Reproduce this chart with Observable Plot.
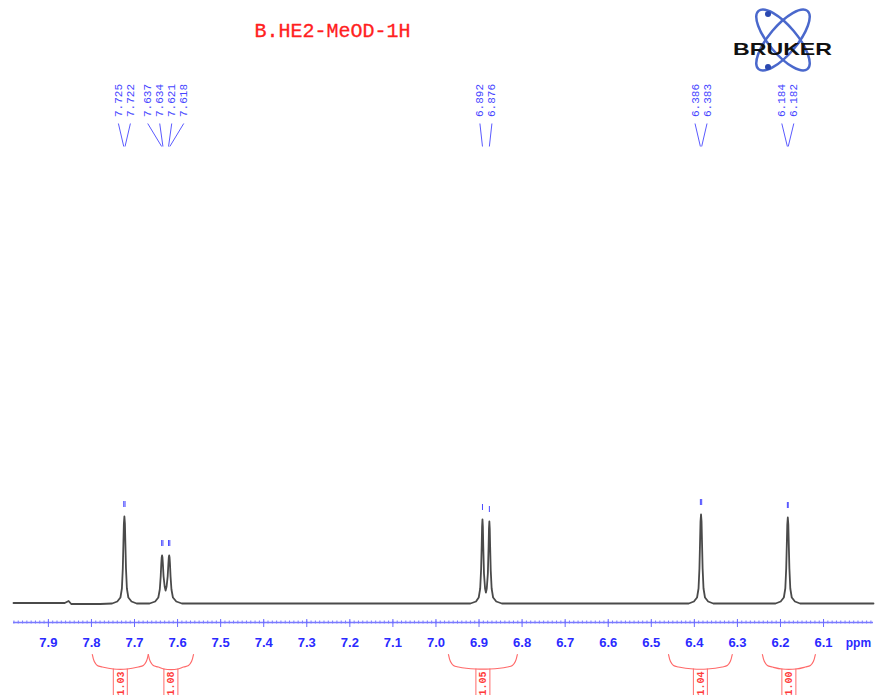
<!DOCTYPE html>
<html><head><meta charset="utf-8">
<script src="https://cdn.jsdelivr.net/npm/d3@7"></script>
<script src="https://cdn.jsdelivr.net/npm/@observablehq/plot@0.6"></script>
<style>body{margin:0;background:#fff}#chart svg{display:block}</style>
</head><body><div id="chart"></div>
<script>
// ---------- data ----------
const title = "B.HE2-MeOD-1H";
const logoText = "BRUKER";
const axisUnit = "ppm";
const tickValues = [7.9,7.8,7.7,7.6,7.5,7.4,7.3,7.2,7.1,7.0,6.9,6.8,6.7,6.6,6.5,6.4,6.3,6.2,6.1];
const tickLabels = ["7.9","7.8","7.7","7.6","7.5","7.4","7.3","7.2","7.1","7.0","6.9","6.8","6.7","6.6","6.5","6.4","6.3","6.2","6.1"];

// spectrum trace vertices (ppm, intensity)
const specPpm = [
  7.981, 7.862, 7.853, 7.847, 7.780,
  7.752, 7.740, 7.7327, 7.7293, 7.7272, 7.7258, 7.7247, 7.7235, 7.7223, 7.7212, 7.7198, 7.7177, 7.7143, 7.707, 7.695,
  7.665, 7.652, 7.6447, 7.6413, 7.6392, 7.6378, 7.6369, 7.636, 7.6351, 7.6342, 7.6325, 7.630, 7.6278, 7.6255, 7.623, 7.6213, 7.6204, 7.6195, 7.6186, 7.6177, 7.6163, 7.6142, 7.6108, 7.603, 7.590,
  7.300, 7.000,
  6.920, 6.907, 6.9007, 6.8973, 6.8952, 6.8938, 6.8929, 6.892, 6.8911, 6.8902, 6.8885, 6.886, 6.884, 6.882, 6.8795, 6.8778, 6.8769, 6.876, 6.8751, 6.8742, 6.8728, 6.8707, 6.8673, 6.860, 6.847,
  6.600,
  6.413, 6.401, 6.3937, 6.3903, 6.3882, 6.3868, 6.3857, 6.3845, 6.3833, 6.3822, 6.3808, 6.3787, 6.3753, 6.368, 6.356,
  6.2115, 6.1995, 6.1922, 6.1888, 6.1867, 6.1853, 6.1842, 6.183, 6.1818, 6.1807, 6.1793, 6.1772, 6.1738, 6.1665, 6.1545,
  5.984
];
const specInt = [
  0.5, 0.5, 2.5, -0.5, -0.5,
  0, 2, 6, 15, 35, 60, 80, 87, 80, 60, 35, 15, 6, 2, 0,
  0, 2, 6, 14, 27, 40, 46, 48, 46, 40, 27, 17, 13, 17, 27, 40, 46, 48, 46, 40, 27, 14, 6, 2, 0,
  0, 0,
  0, 2, 6, 15, 34, 58, 77, 84, 77, 58, 30, 15, 11, 15, 30, 57, 75, 82, 75, 57, 33, 15, 6, 2, 0,
  0,
  0, 2, 6, 15, 35, 61, 82, 89, 82, 61, 35, 15, 6, 2, 0,
  0, 2, 6, 15, 35, 59, 79, 86, 79, 59, 35, 15, 6, 2, 0,
  0
];

// peak picking
const pickPpm    = [7.725, 7.722, 7.637, 7.634, 7.621, 7.618, 6.892, 6.876, 6.386, 6.383, 6.184, 6.182];
const pickLabels = ["7.725","7.722","7.637","7.634","7.621","7.618","6.892","6.876","6.386","6.383","6.184","6.182"];
const pickHeight = [87, 87, 48, 48, 48, 48, 84, 82, 89, 89, 86, 86];
const pickGroup  = [0, 0, 1, 1, 1, 1, 2, 2, 3, 3, 4, 4];

// integrals
const intFrom   = [7.798, 7.668, 6.971, 6.460, 6.242];
const intTo     = [7.668, 7.563, 6.811, 6.312, 6.119];
const intLabels = ["1.03", "1.08", "1.05", "1.04", "1.00"];

// ---------- build ----------
const PX = 1 / 430.6; // ppm per pixel
const spec = specPpm.map((p, i) => ({ppm: p, int: specInt[i]}));

const picks = pickPpm.map((p, i) => ({ppm: p, label: pickLabels[i], h: pickHeight[i], g: pickGroup[i]}));
const groups = d3.group(picks, d => d.g);
for (const [, arr] of groups) {
  const c = d3.mean(arr, d => d.ppm);
  const n = arr.length;
  arr.forEach((d, i) => { d.lx = c + ((n - 1) / 2 - i) * 12 * PX; });
}

const ints = intFrom.map((a, i) => ({a, b: intTo[i], m: (a + intTo[i]) / 2, label: intLabels[i], i}));
const bracket = [];
for (const d of ints) {
  const pts = [
    [d.a, -51], [d.a - 2 * PX, -58], [d.a - 5 * PX, -62], [d.a - 10 * PX, -63.5], [d.m + 7 * PX, -65.5],
    [d.m - 7 * PX, -65.5], [d.b + 10 * PX, -63.5], [d.b + 5 * PX, -62], [d.b + 2 * PX, -58], [d.b, -51]
  ];
  for (const [x, y] of pts) bracket.push({x, y, i: d.i});
}
const intSides = ints.flatMap(d => [{x: d.m + 7 * PX}, {x: d.m - 7 * PX}]);

const minor = d3.range(599, 799).map(v => v / 100);

const blue = "#2a2aff";
const red = "#ff3b3b";

const chart = Plot.plot({
  width: 881, height: 695,
  marginLeft: 13, marginRight: 8, marginTop: 0, marginBottom: 0,
  x: {domain: [7.981, 5.984], axis: null},
  y: {domain: [-92, 603], axis: null},
  marks: [
    // title and logo text
    Plot.text([title], {frameAnchor: "top-left", dx: 319, dy: 22, text: d => d, fill: "#ff2020",
      fontSize: 20, fontFamily: "Liberation Mono", textAnchor: "middle", stroke: "#ff2020", strokeWidth: 0.3}),
    Plot.text([logoText], {frameAnchor: "top-left", dx: 769, dy: 42, text: d => d, fill: "#111",
      fontSize: 17, fontWeight: "bold", fontFamily: "Liberation Sans", textAnchor: "middle", className: "logo"}),
    // axis
    Plot.ruleY([-19], {stroke: "#7a7aff", strokeWidth: 1.5}),
    Plot.ruleX(minor, {x: d => d, y1: () => -17.5, y2: () => -20.5, stroke: "#7a7aff", strokeWidth: 1}),
    Plot.ruleX(tickValues, {x: d => d, y1: () => -16, y2: () => -24, stroke: "#6a6aff", strokeWidth: 1}),
    Plot.text(tickValues, {x: d => d, y: () => -39, text: (d, i) => tickLabels[i], fill: blue,
      fontSize: 13, fontWeight: "bold", fontFamily: "Liberation Sans"}),
    Plot.text([axisUnit], {x: () => 6.019, y: () => -40, text: d => d, fill: blue,
      fontSize: 12, fontWeight: "bold", fontFamily: "Liberation Sans"}),
    // spectrum
    Plot.line(spec, {x: "ppm", y: "int", stroke: "#4a4a4a", strokeWidth: 1.8}),
    // peak picks
    Plot.ruleX(picks, {x: "ppm", y1: d => d.h + 9, y2: d => d.h + 15, stroke: "#4a4aff", strokeWidth: 1}),
    Plot.link(picks, {x1: "lx", y1: () => 480, x2: "ppm", y2: () => 457, stroke: "#5a5aff", strokeWidth: 1}),
    Plot.text(picks, {x: "lx", y: () => 503, text: "label", rotate: -90, fill: "#4646ff",
      fontSize: 11, fontFamily: "Liberation Mono"}),
    // integrals
    Plot.line(bracket, {x: "x", y: "y", z: "i", curve: "catmull-rom", stroke: "#ff6a6a", strokeWidth: 1.2}),
    Plot.ruleX(intSides, {x: "x", y1: () => -65.5, y2: () => -92, stroke: "#ff6a6a", strokeWidth: 1}),
    Plot.text(ints, {x: "m", y: () => -80, text: "label", rotate: -90, fill: red,
      fontSize: 10, fontWeight: "bold", fontFamily: "Liberation Mono"})
  ]
});

// logo orbits behind the logo text
const svg = d3.select(chart);
const g = svg.insert("g", ":first-child").attr("fill", "none");
g.append("ellipse").attr("cx", 783).attr("cy", 40).attr("rx", 38).attr("ry", 14)
  .attr("transform", "rotate(50 783 40)").attr("stroke", "#4a68cc").attr("stroke-width", 2.5);
g.append("ellipse").attr("cx", 783).attr("cy", 40).attr("rx", 38).attr("ry", 14)
  .attr("transform", "rotate(-50 783 40)").attr("stroke", "#4a68cc").attr("stroke-width", 2.5);
g.append("circle").attr("cx", 768).attr("cy", 14).attr("r", 3).attr("fill", "#2a48b0");
g.append("circle").attr("cx", 768).attr("cy", 67).attr("r", 3).attr("fill", "#2a48b0");
svg.selectAll(".logo text").attr("textLength", 99).attr("lengthAdjust", "spacingAndGlyphs");

document.getElementById("chart").appendChild(chart);
</script>
</body></html>
